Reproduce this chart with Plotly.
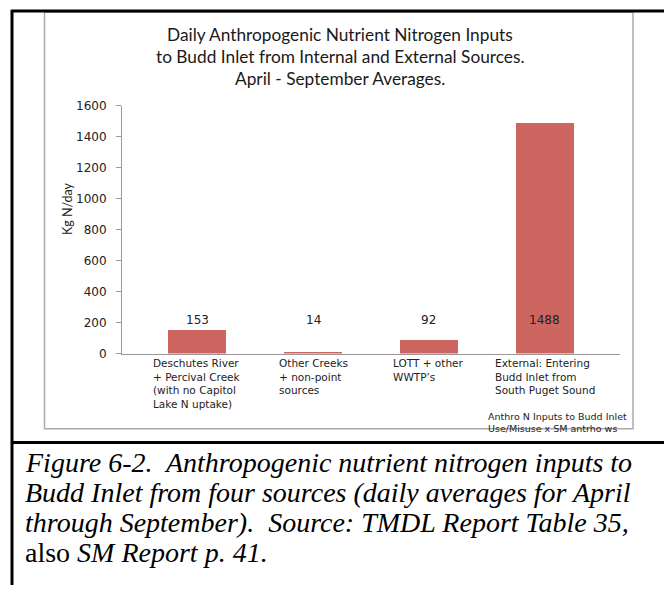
import plotly.graph_objects as go

# ---- data ----
categories = [
    "Deschutes River<br>+ Percival Creek<br>(with no Capitol<br>Lake N uptake)",
    "Other Creeks<br>+ non-point<br>sources",
    "LOTT + other<br>WWTP\u2019s",
    "External: Entering<br>Budd Inlet from<br>South Puget Sound",
]
values = [153, 14, 92, 1488]
y_ticks = [0, 200, 400, 600, 800, 1000, 1200, 1400, 1600]
title_lines = [
    "Daily Anthropogenic Nutrient Nitrogen Inputs",
    "to Budd Inlet from Internal and External Sources.",
    "April - September Averages.",
]
y_title = "Kg N/day"
footnote = "Anthro N Inputs to Budd Inlet<br>Use/Misuse x SM antrho ws"
caption_lines = [
    "<i>Figure 6-2.\u00a0 Anthropogenic nutrient nitrogen inputs to</i>",
    "<i>Budd Inlet from four sources (daily averages for April</i>",
    "<i>through September).\u00a0 Source: TMDL Report Table 35,</i>",
    "also <i>SM Report p. 41.</i>",
]

W, H = 664, 592
def px(x):
    return x / W
def py(y):
    return 1 - y / H

xs = list(range(len(values)))
bar_color = "#CD6661"
sans = "DejaVu Sans"

fig = go.Figure()
fig.add_trace(go.Bar(
    x=xs, y=values, width=0.5, marker=dict(color=bar_color, line=dict(width=0)),
    hoverinfo="skip", showlegend=False,
))

annotations = []
# value labels
for i, v in zip(xs, values):
    annotations.append(dict(x=i, y=220, xref="x", yref="y", text=str(v), showarrow=False,
                            font=dict(family=sans, size=12, color="#222"),
                            xanchor="center", yanchor="middle"))
# category labels
for i, c in zip(xs, categories):
    annotations.append(dict(x=i, y=py(356), xref="x", yref="paper", text=c, showarrow=False,
                            align="left", xanchor="center", yanchor="top",
                            font=dict(family=sans, size=10.5, color="#222")))
# title
for k, t in enumerate(title_lines):
    annotations.append(dict(x=px(340), y=py(28 + k * 22.5), xref="paper", yref="paper", text=t,
                            showarrow=False, xanchor="center", yanchor="middle",
                            font=dict(family="Lato", size=17.3, color="#1a1a1a")))
# y title
annotations.append(dict(x=px(67), y=py(207), xref="paper", yref="paper", text=y_title,
                        showarrow=False, textangle=-90, xanchor="center", yanchor="middle",
                        font=dict(family="Lato", size=12.5, color="#222")))
# footnote
annotations.append(dict(x=px(486), y=py(412), xref="paper", yref="paper", text=footnote,
                        showarrow=False, align="left", xanchor="left", yanchor="top",
                        font=dict(family=sans, size=9.5, color="#222")))
# caption
for k, t in enumerate(caption_lines):
    annotations.append(dict(x=px(23), y=py(484 + k * 31), xref="paper", yref="paper", text=t,
                            showarrow=False, xanchor="left", yanchor="bottom",
                            font=dict(family="Liberation Serif", size=28, color="#000")))

shapes = [
    # chart box
    dict(type="rect", xref="paper", yref="paper", x0=px(44.5), x1=px(633), y0=py(432), y1=py(5.5),
         line=dict(color="#aaaaaa", width=1.5), layer="below"),
    # document table borders
    dict(type="line", xref="paper", yref="paper", x0=px(11), x1=px(664), y0=py(4), y1=py(4),
         line=dict(color="#000", width=3)),
    dict(type="line", xref="paper", yref="paper", x0=px(12), x1=px(12), y0=py(3), y1=py(592),
         line=dict(color="#000", width=3)),
    dict(type="line", xref="paper", yref="paper", x0=px(11), x1=px(664), y0=py(446), y1=py(446),
         line=dict(color="#000", width=3)),
]

fig.update_layout(
    width=W, height=H,
    margin=dict(l=0, r=0, t=0, b=0),
    paper_bgcolor="white", plot_bgcolor="white",
    annotations=annotations, shapes=shapes,
    bargap=0,
    xaxis=dict(domain=[px(122), px(620)], range=[-0.647, 3.647], showgrid=False, zeroline=False,
               showline=True, linecolor="#999", linewidth=1, showticklabels=False, ticks="",
               fixedrange=True),
    yaxis=dict(domain=[py(355), py(101)], range=[0, 1600], tickvals=y_ticks, showgrid=False,
               zeroline=False, showline=True, linecolor="#999", linewidth=1, ticks="outside",
               ticklen=5, tickcolor="#999", ticklabelstandoff=7,
               tickfont=dict(family=sans, size=12, color="#222"), fixedrange=True),
)

fig.write_html("out.html", config={"displayModeBar": False},
               post_script="document.body.style.margin='0px';document.body.style.overflow='hidden';")
